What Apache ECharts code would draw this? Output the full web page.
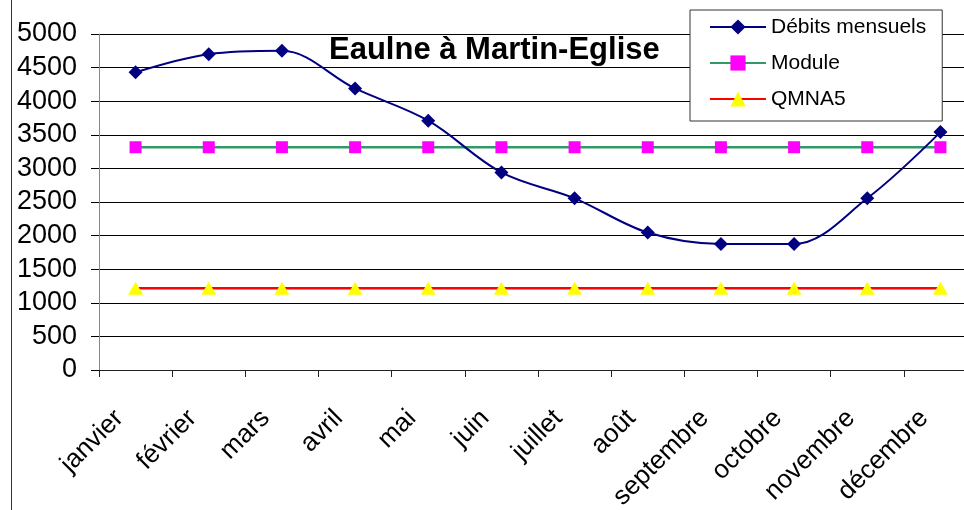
<!DOCTYPE html>
<html>
<head>
<meta charset="utf-8">
<script src="https://cdn.jsdelivr.net/npm/echarts@6/dist/echarts.min.js"></script>
<style>
html,body{margin:0;padding:0;background:#fff;overflow:hidden;}
#chart{width:980px;height:510px;}
</style>
</head>
<body>
<div id="chart"></div>
<script>
const months = ['janvier','février','mars','avril','mai','juin','juillet','août','septembre','octobre','novembre','décembre'];
const debits = [4430, 4700, 4750, 4190, 3710, 2940, 2555, 2045, 1875, 1875, 2555, 3540];
const moduleVals = [3315, 3315, 3315, 3315, 3315, 3315, 3315, 3315, 3315, 3315, 3315, 3315];
const qmna5 = [1215, 1215, 1215, 1215, 1215, 1215, 1215, 1215, 1215, 1215, 1215, 1215];
const yMin = 0, yMax = 5000, yStep = 500;

const FONT = '"Liberation Sans", Arial, sans-serif';
const chart = echarts.init(document.getElementById('chart'), null, {renderer: 'canvas'});
chart.setOption({
  animation: false,
  backgroundColor: '#ffffff',
  title: {
    text: 'Eaulne à Martin-Eglise',
    left: 329, top: 35, padding: 0,
    textStyle: {fontFamily: FONT, fontSize: 31, fontWeight: 'bold', color: '#000'}
  },
  legend: {
    orient: 'vertical',
    left: 690, top: 10,
    padding: [5, 16, 10, 19],
    itemGap: 12,
    itemWidth: 56, itemHeight: 19,
    backgroundColor: '#ffffff',
    borderColor: '#333333', borderWidth: 1,
    textStyle: {fontFamily: FONT, fontSize: 21, color: '#000', lineHeight: 24},
    data: ['Débits mensuels', 'Module', 'QMNA5']
  },
  graphic: [{
    type: 'line', shape: {x1: 11.5, y1: 0, x2: 11.5, y2: 510},
    style: {stroke: '#333', lineWidth: 1}
  }],
  grid: {left: 99, top: 34, bottom: 140, right: 3, containLabel: false, outerBoundsMode: 'none'},
  xAxis: {
    type: 'category', data: months, boundaryGap: true,
    axisLine: {lineStyle: {color: '#222', width: 1}},
    axisTick: {show: true, length: 7, inside: false, lineStyle: {color: '#222'}},
    axisLabel: {
      rotate: 45, margin: 28, interval: 0, padding: [0, 23, 0, 0],
      fontFamily: FONT, fontSize: 26, color: '#000'
    },
    splitLine: {show: false}
  },
  yAxis: {
    type: 'value', min: yMin, max: yMax, interval: yStep,
    axisLine: {show: true, lineStyle: {color: '#888', width: 1}},
    axisTick: {show: true, length: 8, inside: false, lineStyle: {color: '#000'}},
    axisLabel: {margin: 22, fontFamily: FONT, fontSize: 27, color: '#000',
      formatter: function (v) { return String(v); }},
    splitLine: {show: true, lineStyle: {color: '#000', width: 1}}
  },
  series: [
    {
      name: 'Débits mensuels', type: 'line', data: debits, smooth: 0.35,
      symbol: 'diamond', symbolSize: 14,
      lineStyle: {color: '#000080', width: 2},
      itemStyle: {color: '#000080'},
      z: 5
    },
    {
      name: 'Module', type: 'line', data: moduleVals,
      symbol: 'rect', symbolSize: 12,
      lineStyle: {color: '#339966', width: 2.5},
      itemStyle: {color: '#ff00ff'},
      z: 4
    },
    {
      name: 'QMNA5', type: 'line', data: qmna5,
      symbol: 'triangle', symbolSize: [15, 13],
      lineStyle: {color: '#ff0000', width: 2.5},
      itemStyle: {color: '#ffff00'},
      z: 3
    }
  ]
});
</script>
</body>
</html>
